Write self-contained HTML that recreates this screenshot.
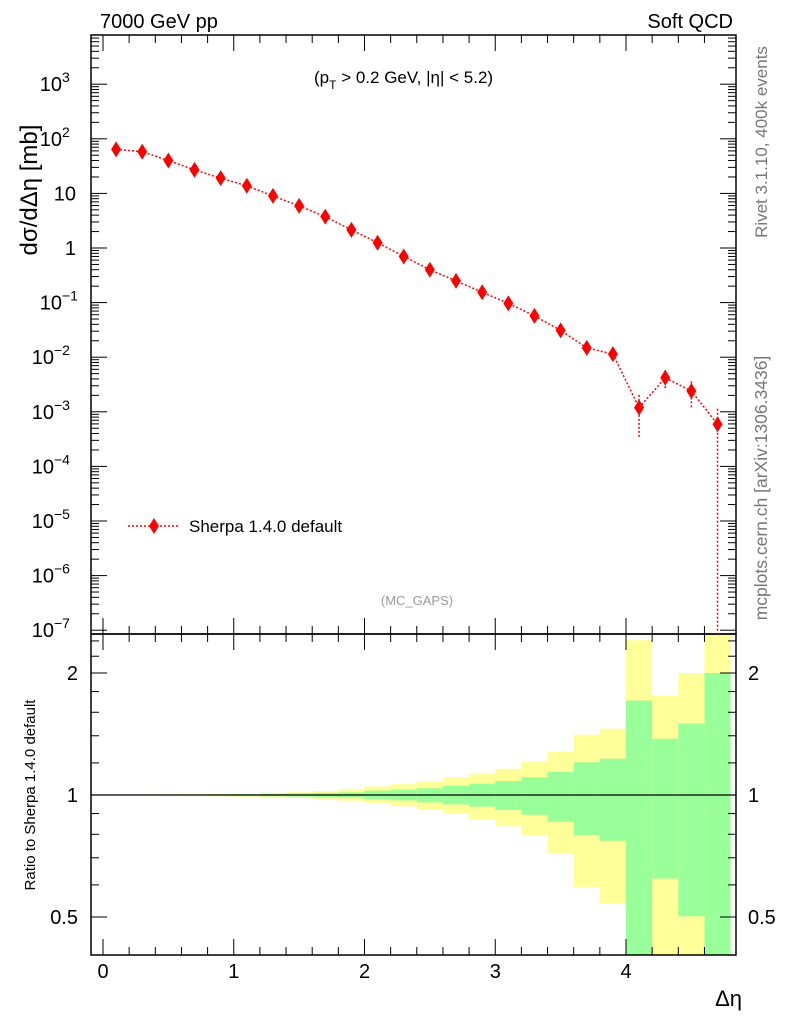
<!DOCTYPE html>
<html><head><meta charset="utf-8"><style>
body{margin:0;background:#fff;}
svg{display:block;font-family:"Liberation Sans",sans-serif;}
</style></head><body>
<svg id="c" width="786" height="1024"></svg>
<script>
const xCenters=[0.1,0.3,0.5,0.7,0.9,1.1,1.3,1.5,1.7,1.9,2.1,2.3,2.5,2.7,2.9,3.1,3.3,3.5,3.7,3.9,4.1,4.3,4.5,4.7];
const yValues=[64,58,40,27,19,13.8,9.0,5.9,3.75,2.15,1.25,0.7,0.40,0.25,0.155,0.097,0.057,0.031,0.0148,0.0114,0.00119,0.0042,0.0024,0.00059];
const yErrUp=[0,0,0,0,0,0,0,0,0,0,0,0,0,0,0,0,0,0,0,0,0.00204,0.0058,0.0036,0.00114];
const yErrDown=[0,0,0,0,0,0,0,0,0,0,0,0,0,0,0,0,0,0,0,0,0.00034,0.0025,0.00118,1e-9];
const binEdges=[0,0.2,0.4,0.6,0.8,1.0,1.2,1.4,1.6,1.8,2.0,2.2,2.4,2.6,2.8,3.0,3.2,3.4,3.6,3.8,4.0,4.2,4.4,4.6,4.8];
const yellowUp=[1.002,1.003,1.004,1.005,1.007,1.009,1.012,1.016,1.022,1.035,1.05,1.063,1.081,1.106,1.129,1.161,1.208,1.279,1.409,1.458,2.41,1.758,2.0,2.6];
const greenUp=[1.001,1.002,1.002,1.003,1.004,1.005,1.007,1.009,1.012,1.015,1.025,1.031,1.039,1.054,1.066,1.083,1.106,1.141,1.204,1.229,1.71,1.377,1.5,2.0];
const greenDown=[0.999,0.998,0.998,0.997,0.996,0.995,0.993,0.991,0.989,0.987,0.977,0.970,0.959,0.948,0.936,0.918,0.894,0.859,0.795,0.771,0.3,0.622,0.502,0.3];
const yellowDown=[0.998,0.997,0.996,0.995,0.993,0.991,0.988,0.984,0.978,0.968,0.956,0.938,0.920,0.899,0.871,0.837,0.795,0.719,0.593,0.541,0.3,0.3,0.3,0.3];
const xTicks=[0,1,2,3,4];
const yTickExp=[3,2,1,0,-1,-2,-3,-4,-5,-6,-7];
const rTicks=[0.5,1,2];

const L=91,R=736,T=35,MB=634,RB=955;
const X=v=>103+v*130.75;
const Y=v=>248-54.6*Math.log10(v);
const RY=v=>795-122*Math.log2(v);
const svg=document.getElementById('c');
const NS='http://www.w3.org/2000/svg';
function el(t,a,p){const e=document.createElementNS(NS,t);for(const k in a)e.setAttribute(k,a[k]);(p||svg).appendChild(e);return e;}
function txt(s,a,p){const e=el('text',a,p);e.textContent=s;return e;}

const rg=el('g',{});


const clip=el('clipPath',{id:'rc'});el('rect',{x:L,y:MB,width:R-L,height:RB-MB},clip);
rg.setAttribute('clip-path','url(#rc)');
for(let i=0;i<xCenters.length;i++){
  const x0=X(binEdges[i]),x1=X(binEdges[i+1]);
  const y1=el('rect',{x:x0,y:RY(yellowUp[i]),width:x1-x0,height:RY(yellowDown[i])-RY(yellowUp[i]),fill:'#ffff99'},rg);
  
  
  const g1=el('rect',{x:x0,y:RY(greenUp[i]),width:x1-x0,height:RY(greenDown[i])-RY(greenUp[i]),fill:'#99ff99'},rg);
  
  
}
el('line',{x1:L,x2:R,y1:RY(1),y2:RY(1),stroke:'#000','stroke-width':1.3});

const f1=el('rect',{x:L,y:T,width:R-L,height:MB-T,fill:'none',stroke:'#000','stroke-width':1.5});


const f2=el('rect',{x:L,y:MB,width:R-L,height:RB-MB,fill:'none',stroke:'#000','stroke-width':1.5});



for(let v=0;v<=4.8;v+=0.2){
  const major=Math.abs(v-Math.round(v))<1e-6;const len=major?16:8;const x=X(v);
  [[T,1],[MB,-1],[MB,1],[RB,-1]].forEach(([y,d])=>el('line',{x1:x,x2:x,y1:y,y2:y+d*len,stroke:'#000','stroke-width':1}));
}
xTicks.forEach(v=>{const t=txt(String(v),{x:X(v),y:978,'font-size':20,'text-anchor':'middle'});

});
const xt=txt('Δη',{x:742,y:1006,'font-size':22,'text-anchor':'end'});



for(let e=-7;e<=3;e++){
  for(let m=1;m<10;m++){
    const v=m*Math.pow(10,e);const y=Y(v);if(y<T||y>MB)continue;
    const len=m==1?16:8;
    el('line',{x1:L,x2:L+len,y1:y,y2:y,stroke:'#000'});
    el('line',{x1:R,x2:R-len,y1:y,y2:y,stroke:'#000'});
  }
}
yTickExp.forEach(e=>{
  const y=Y(Math.pow(10,e))+7;
  let t;
  if(e>=0&&e<=1){t=txt(String(Math.pow(10,e)),{x:76,y:y,'font-size':20,'text-anchor':'end'});}
  else if(e>=2){t=txt('10',{x:62,y:y,'font-size':20,'text-anchor':'end'});txt(String(e),{x:62,y:y-9,'font-size':14});}
  else if(e==-1){t=txt('10',{x:62,y:y,'font-size':20,'text-anchor':'end'});txt('−1',{x:62,y:y-9,'font-size':14});}
  else{t=txt('10',{x:54,y:y,'font-size':20,'text-anchor':'end'});txt('−'+(-e),{x:54,y:y-9,'font-size':14});}
  
  
});
const yt=txt('dσ/dΔη [mb]',{transform:'translate(37,190) rotate(-90)','font-size':24,'text-anchor':'middle'});



[0.4,0.5,0.6,0.7,0.8,0.9,1,1.2,1.4,1.6,1.8,2,2.2,2.4].forEach(v=>{
  const y=RY(v);if(y<MB||y>RB)return;const len=rTicks.includes(v)?16:8;
  el('line',{x1:L,x2:L+len,y1:y,y2:y,stroke:'#000'});
  el('line',{x1:R,x2:R-len,y1:y,y2:y,stroke:'#000'});
});
rTicks.forEach(v=>{
  const a=txt(String(v),{x:78,y:RY(v)+7,'font-size':20,'text-anchor':'end'});
  
  
  const b=txt(String(v),{x:748,y:RY(v)+7,'font-size':20});
  
  
});
const rt=txt('Ratio to Sherpa 1.4.0 default',{transform:'translate(35,795) rotate(-90)','font-size':15,'text-anchor':'middle'});



const sg=el('g',{});


el('polyline',{points:xCenters.map((x,i)=>X(x)+','+Y(yValues[i])).join(' '),fill:'none',stroke:'#f00','stroke-width':1.5,'stroke-dasharray':'2,2'},sg);
xCenters.forEach((x,i)=>{
  const px=X(x),py=Y(yValues[i]);
  if(yErrUp[i]>0){
    const yb=Math.min(Y(yErrDown[i]),MB);
    el('line',{x1:px,x2:px,y1:Y(yErrUp[i]),y2:yb,stroke:'#f00','stroke-width':1.5,'stroke-dasharray':'2,2'},sg);
  }
  const d=el('path',{d:`M${px},${py-8}L${px+5},${py}L${px},${py+8}L${px-5},${py}Z`,fill:'#f00'},sg);
  
  
});

const lg=el('g',{});


el('line',{x1:128,x2:180,y1:526,y2:526,stroke:'#f00','stroke-width':1.5,'stroke-dasharray':'2,2'},lg);
el('path',{d:'M154,518L159,526L154,534L149,526Z',fill:'#f00'},lg);
txt('Sherpa 1.4.0 default',{x:189,y:532,'font-size':17},lg);

const h1=txt('7000 GeV pp',{x:100,y:28,'font-size':20});


const h2=txt('Soft QCD',{x:733,y:28,'font-size':20,'text-anchor':'end'});


const cut=txt('',{x:314,y:83,'font-size':17});


cut.innerHTML='(p<tspan font-size="12" dy="6">T</tspan><tspan dy="-6"> &gt; 0.2 GeV, |η| &lt; 5.2)</tspan>';
const an=txt('(MC_GAPS)',{x:417,y:605,'font-size':13,fill:'#999','text-anchor':'middle'});


const r1=txt('Rivet 3.1.10,  400k events',{transform:'translate(767,142) rotate(-90)','font-size':17,fill:'#777','text-anchor':'middle'});


const r2=txt('mcplots.cern.ch [arXiv:1306.3436]',{transform:'translate(767,488) rotate(-90)','font-size':17.5,fill:'#777','text-anchor':'middle'});


</script>
</body></html>
